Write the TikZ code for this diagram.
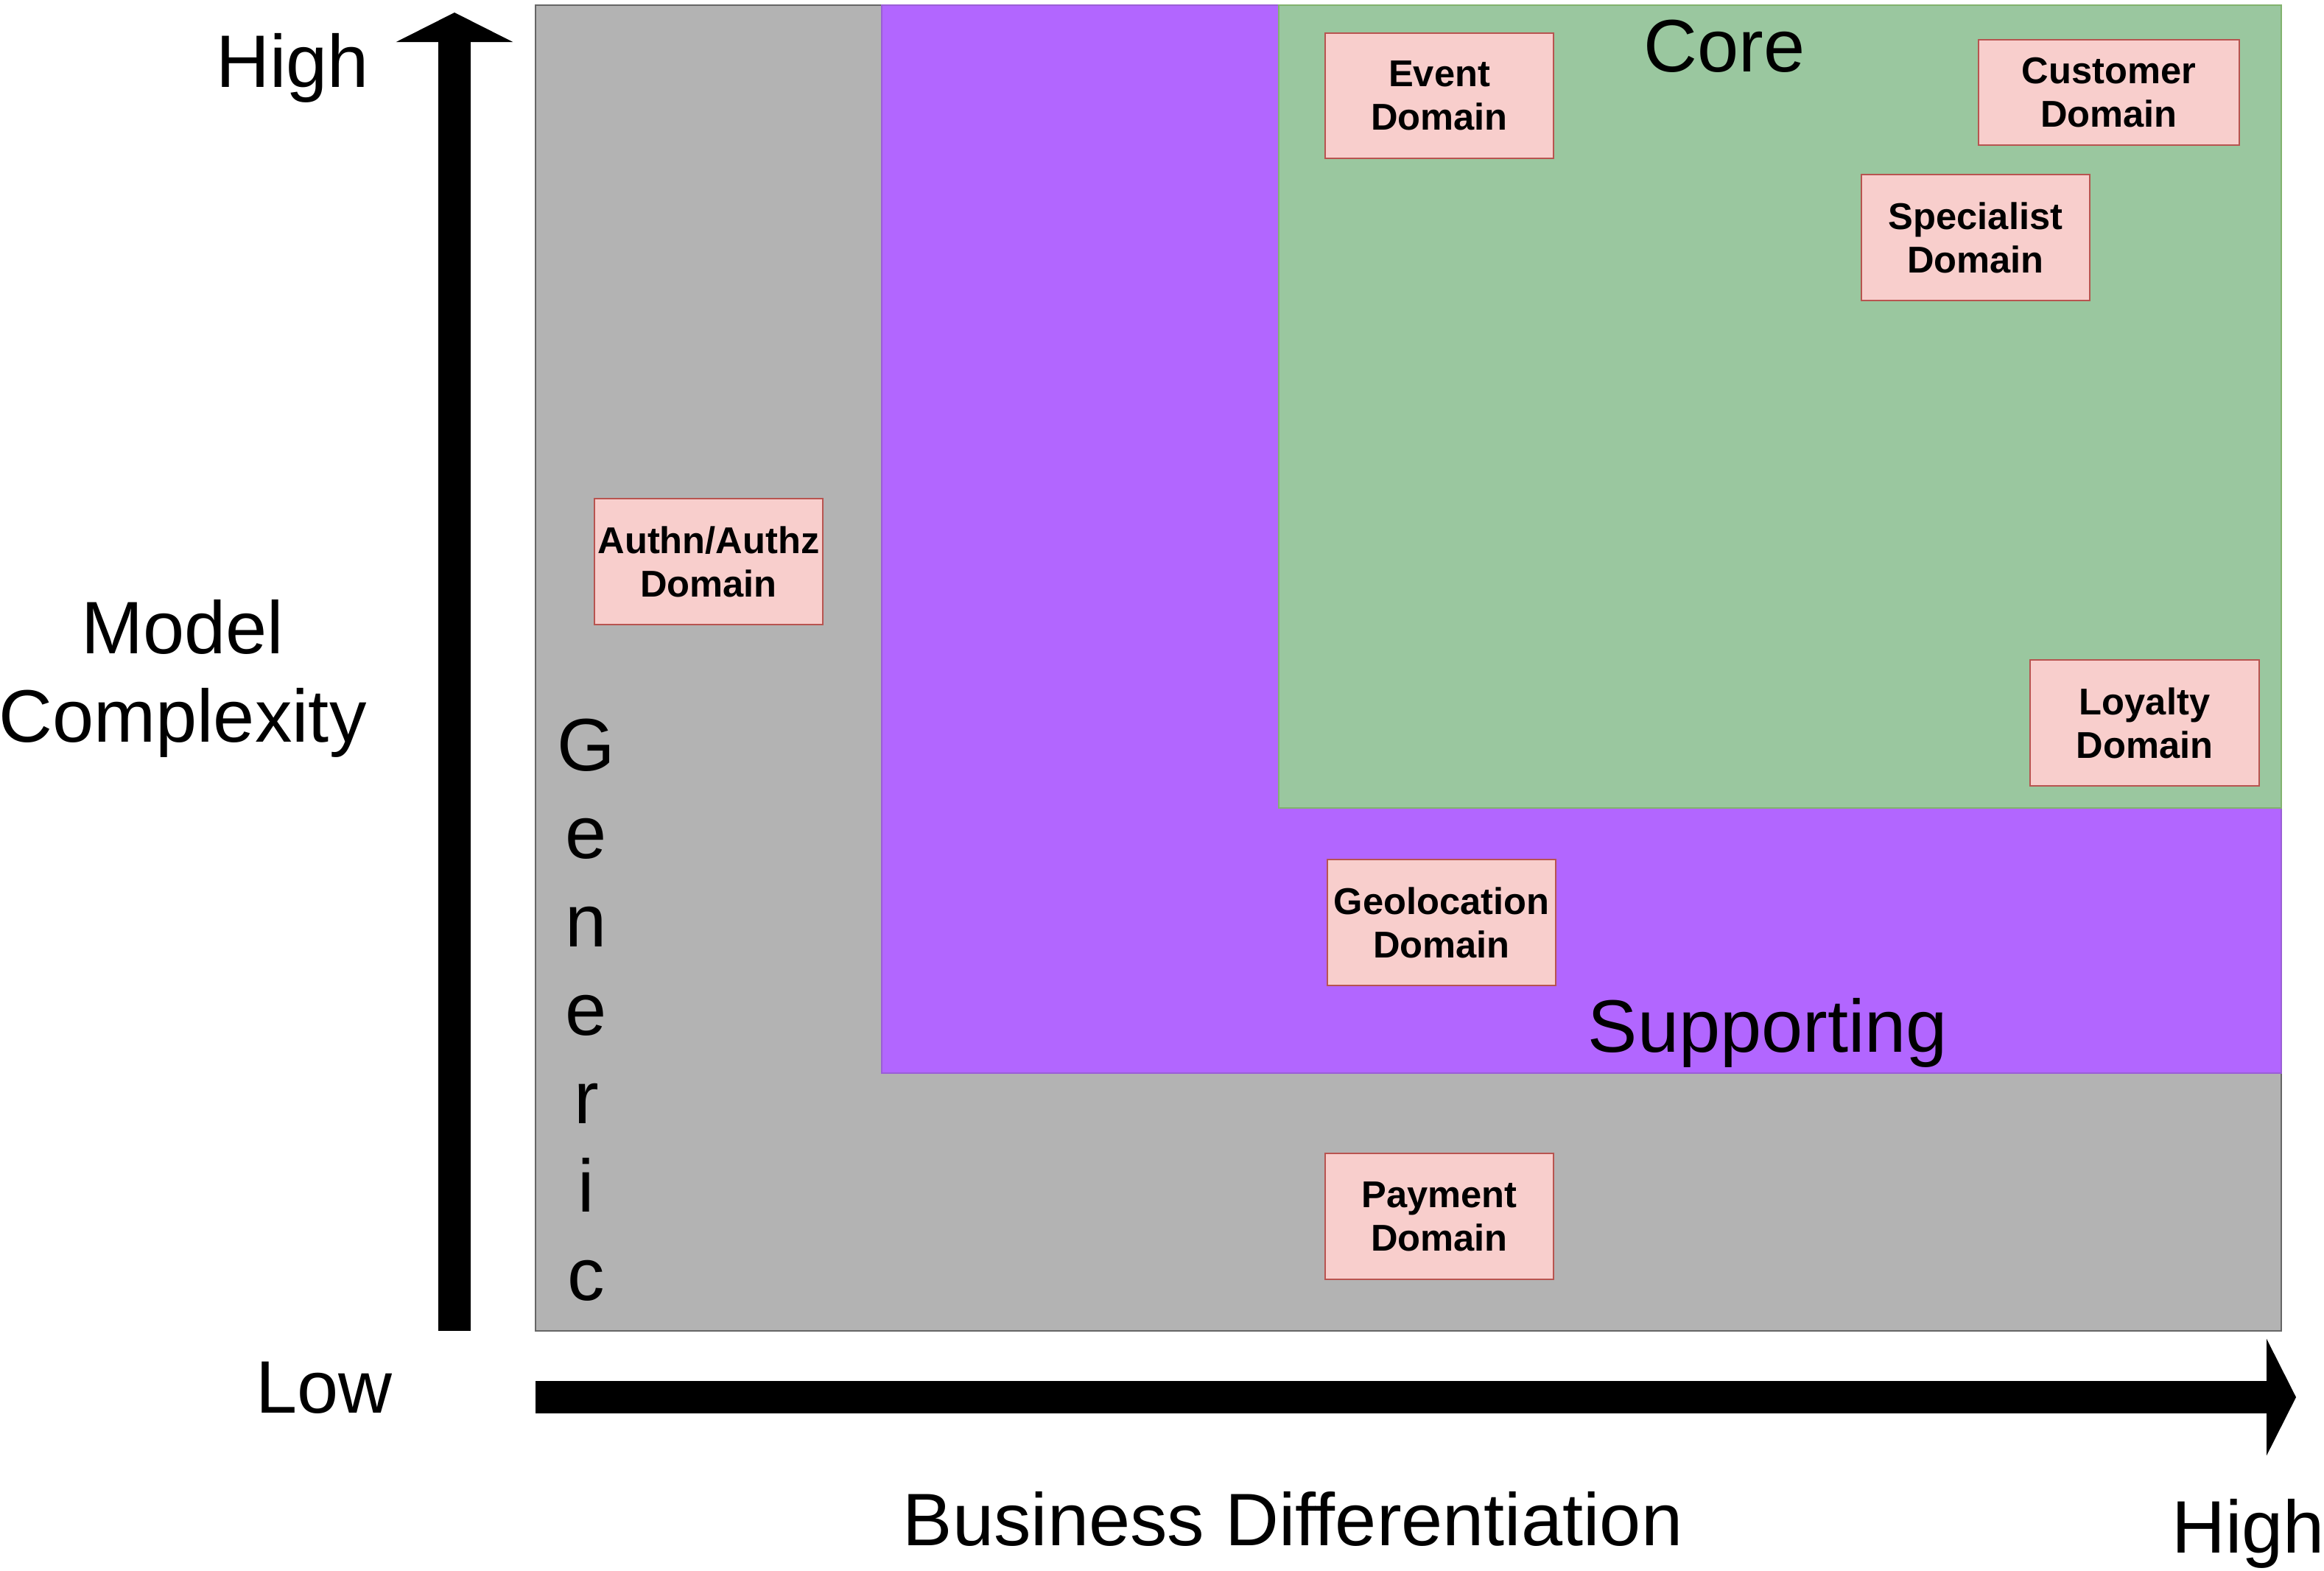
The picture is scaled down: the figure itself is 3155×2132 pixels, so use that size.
\documentclass[tikz,border=0pt]{standalone}
\usepackage{fontspec}
\setmainfont{Liberation Sans}
\usetikzlibrary{arrows.meta,positioning}
\definecolor{genericfill}{HTML}{B3B3B3}
\definecolor{genericline}{HTML}{666666}
\definecolor{supportfill}{HTML}{B266FF}
\definecolor{supportline}{HTML}{9A5FD6}
\definecolor{corefill}{HTML}{9AC79F}
\definecolor{coreline}{HTML}{82B36E}
\definecolor{domainfill}{HTML}{F8CECC}
\definecolor{domainline}{HTML}{B85450}
\tikzset{
zone/.style = {line width=0.02cm},
domainbox/.style = {draw=domainline, fill=domainfill, line width=0.02cm, rectangle, minimum width=3.1cm, minimum height=1.7cm, inner sep=0pt, align=center, font=\bfseries\fontsize{14.4pt}{16.8pt}\selectfont},
bigtext/.style = {inner sep=0pt, align=center, font=\fontsize{28.7pt}{34.1pt}\selectfont},
axis/.style = {coordinate},
axisline/.style = {line width=0.44cm, -{Triangle[length=0.4cm,width=1.57cm]}}
}
\begin{document}
\begin{tikzpicture}[x=0.01cm, y=-0.01cm]
    \useasboundingbox (0,0) rectangle (3155,2132);
    % zones
    \filldraw [zone, fill=genericfill, draw=genericline] (727,7) rectangle (3097,1807);
    \filldraw [zone, fill=supportfill, draw=supportline] (1197,7) rectangle (3097,1457);
    \filldraw [zone, fill=corefill, draw=coreline] (1736,7) rectangle (3097,1097);
    \node [bigtext, anchor=base] (core) at (2341,97) {Core};
    \node [bigtext, anchor=base] (supporting) at (2400,1428) {Supporting};
    \node [bigtext] (generic) at (796,1371) {G\\e\\n\\e\\r\\i\\c};
    % domains
    \node [domainbox] (event) at (1954,130) {Event\\Domain};
    \node [domainbox, minimum width=3.54cm, minimum height=1.43cm] (customer) at (2863,125.5) {Customer\\Domain};
    \node [domainbox] (specialist) at (2682,322.5) {Specialist\\Domain};
    \node [domainbox] (authn) at (962,762.5) {Authn/Authz\\Domain};
    \node [domainbox] (loyalty) at (2911.5,981.5) {Loyalty\\Domain};
    \node [domainbox] (geolocation) at (1957,1252.5) {Geolocation\\Domain};
    \node [domainbox] (payment) at (1954,1651.5) {Payment\\Domain};
    % axes
    \node [axis] (ybottom) at (617,1807) {};
    \node [axis] (ytop) at (617,17) {};
    \node [axis] (xleft) at (727,1897) {};
    \node [axis] (xright) at (3117,1897) {};
    \draw [axisline] (ybottom) -- (ytop);
    \draw [axisline] (xleft) -- (xright);
    \node [bigtext, anchor=base] (yhigh) at (397,118) {High};
    \node [bigtext] (ytitle) at (248,921.5) {Model\\Complexity};
    \node [bigtext, anchor=base] (ylow) at (440,1918) {Low};
    \node [bigtext, anchor=base] (xtitle) at (1755,2098) {Business Differentiation};
    \node [bigtext, anchor=base] (xhigh) at (3052,2108) {High};
\end{tikzpicture}
\end{document}
